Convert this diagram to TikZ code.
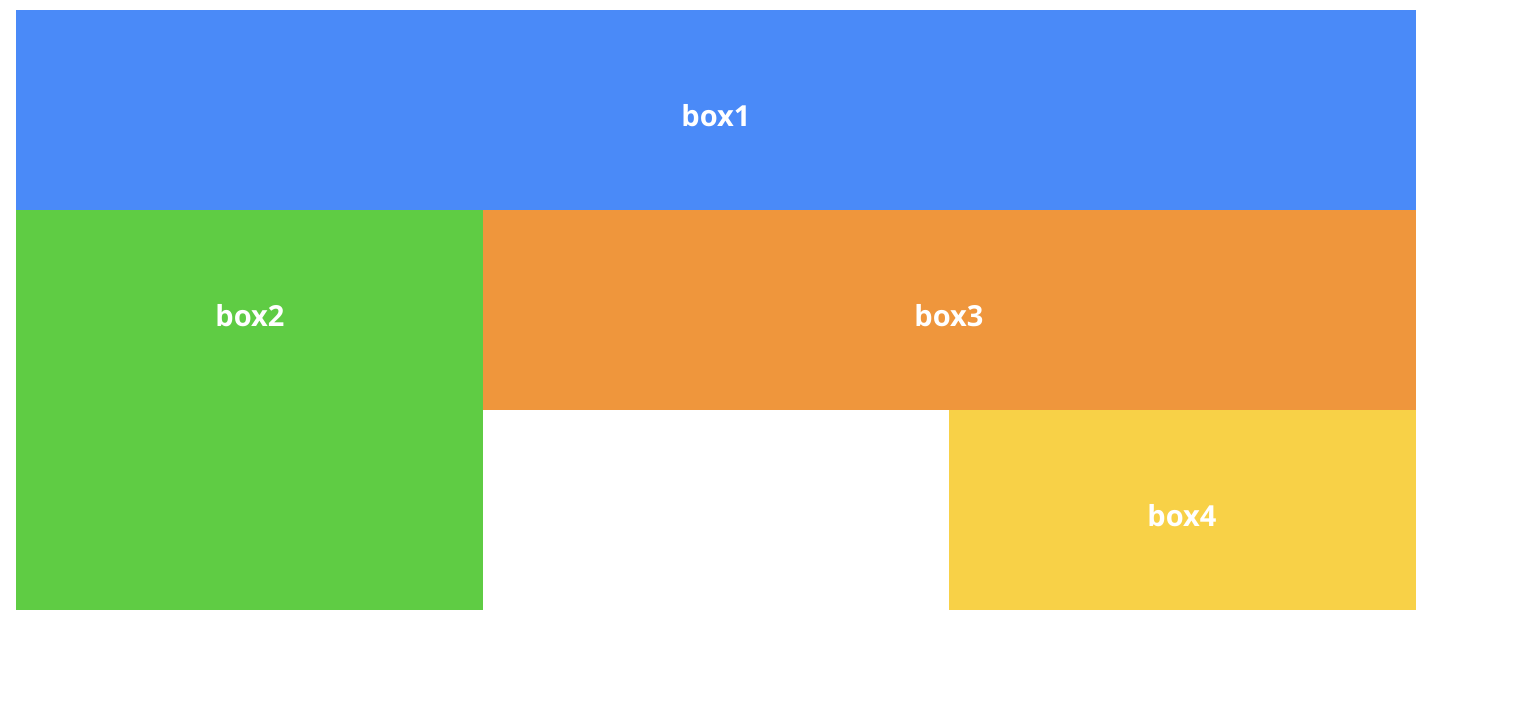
\documentclass[tikz,border=0pt]{standalone}
\usepackage{fontspec}
\setmainfont{Open Sans}
\definecolor{cblue}{HTML}{4A8AF8}
\definecolor{cgreen}{HTML}{5FCC44}
\definecolor{corange}{HTML}{EF963C}
\definecolor{cyellow}{HTML}{F8D147}
\tikzset{boxlbl/.style={text=white,font=\fontsize{29}{34}\selectfont\bfseries}}
\begin{document}
\begin{tikzpicture}[x=1pt,y=-1pt]
\useasboundingbox (0,0) rectangle (1524,710);
\fill[cblue] (16,10) rectangle (1416,210);
\fill[cgreen] (16,210) rectangle (483,610);
\fill[corange] (483,210) rectangle (1416,410);
\fill[cyellow] (949,410) rectangle (1416,610);
\node[boxlbl] (b1) at (716,116) {box1};
\node[boxlbl] (b2) at (250,316) {box2};
\node[boxlbl] (b3) at (949,316) {box3};
\node[boxlbl] (b4) at (1182,516) {box4};
\end{tikzpicture}
\end{document}
